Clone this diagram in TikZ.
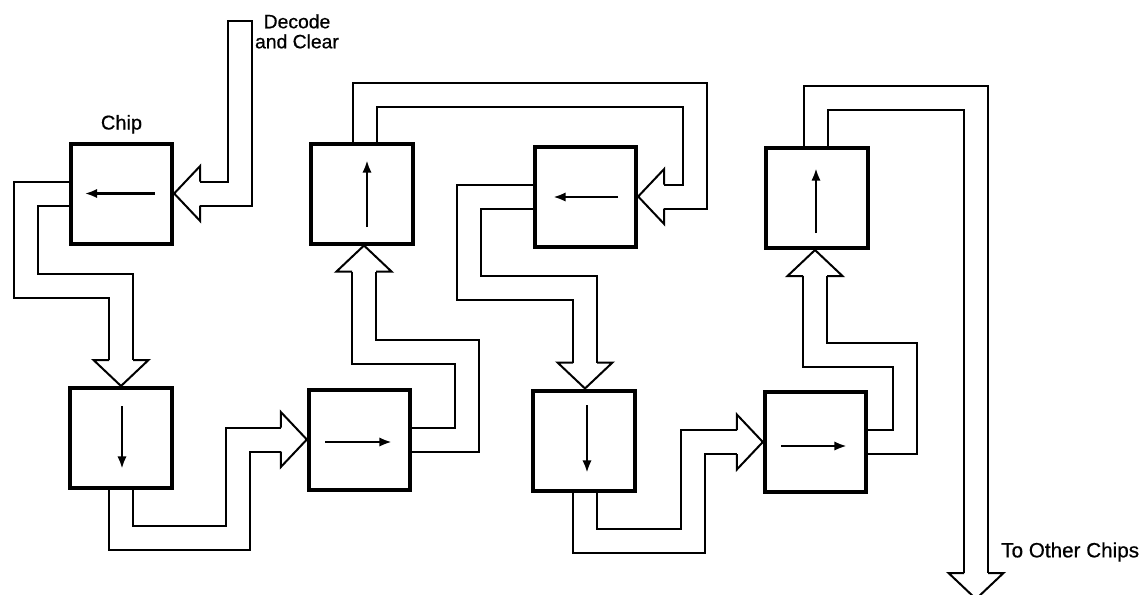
\documentclass[tikz,border=0pt]{standalone}
\usepackage{fontspec}
\setmainfont{Liberation Sans}
\newfontfamily\lblfont{Liberation Sans}[FakeBold=0.6]
\usetikzlibrary{calc,arrows.meta}
\pgfdeclarelayer{bg}
\pgfsetlayers{bg,main}
\tikzset{
  chipbox/.style={draw, line width=3pt, minimum width=76pt, minimum height=75pt, inner sep=0pt},
  bus/.style={draw, line width=1.5pt, double=white, double distance=16.5pt, line join=miter, line cap=butt},
  busedge/.style={line width=1.5pt, line join=miter},
  flow/.style={line width=2pt, -{Latex[length=9.5pt,width=7pt]}},
  lbl/.style={inner sep=0pt, font=\lblfont\fontsize{14.5}{15}\selectfont},
  bushead/.pic={\draw[busedge] (-26,12) -- (-26,27.5) -- (0,0) -- (-26,-27.5) -- (-26,-12);}
}
\begin{document}
\begin{tikzpicture}[x=0.75pt,y=0.75pt]
\useasboundingbox (0,0) rectangle (1146,-594);
% chips
\node[chipbox] (b1) at (121.5,-193.5) {};
\node[chipbox] (b2) at (121,-438) {};
\node[chipbox] (b3) at (359.5,-439.5) {};
\node[chipbox] (b4) at (362,-193.5) {};
\node[chipbox] (b5) at (585.5,-196.5) {};
\node[chipbox] (b6) at (584,-440.5) {};
\node[chipbox] (b7) at (815.5,-442) {};
\node[chipbox] (b8) at (817,-198) {};
% direction arrows inside chips
\draw[flow] ($(b1.center)+(33,0)$) -- ($(b1.center)+(-37,0)$);
\draw[flow] ($(b2.center)+(1,32)$) -- ($(b2.center)+(1,-31)$);
\draw[flow] ($(b3.center)+(-34.5,-2.5)$) -- ($(b3.center)+(32.5,-2.5)$);
\draw[flow] ($(b4.center)+(5,-33.5)$) -- ($(b4.center)+(5,33.5)$);
\draw[flow] ($(b5.center)+(32.5,-0.5)$) -- ($(b5.center)+(-32.5,-0.5)$);
\draw[flow] ($(b6.center)+(3,35.5)$) -- ($(b6.center)+(3,-32.5)$);
\draw[flow] ($(b7.center)+(-34.5,-4)$) -- ($(b7.center)+(31.5,-4)$);
\draw[flow] ($(b8.center)+(-1,-35)$) -- ($(b8.center)+(-1,30)$);
% labels
\node[lbl, font=\lblfont\fontsize{15}{16}\selectfont, anchor=base] (chip) at ($(b1.north)+(0,12)$) {Chip};
\node[lbl, anchor=north, align=center] (dec) at (297,-14) {Decode\\and Clear};
\node[lbl, font=\lblfont\fontsize{15.5}{16}\selectfont, anchor=west] (other) at (1001,-552) {To Other Chips};
\coordinate (dtop) at (240,-21);
\coordinate (outtip) at (976,-599);
% buses
\begin{pgfonlayer}{bg}
\draw[bus] (dtop) |- ($(b1.east)+(26,0)$);
\draw[busedge] ($(dtop)+(-12.9,0)$) -- ($(dtop)+(12.9,0)$);
\pic[rotate=180] at (b1.east) {bushead};

\draw[bus] (b1.west) -| (25.5,-285.5) -| ($(b2.north)+(0,26)$);
\pic[rotate=-90] at (b2.north) {bushead};

\draw[bus] (b2.south) |- (237.5,-537.5) |- ($(b3.west)+(-26,0)$);
\pic at (b3.west) {bushead};

\draw[bus] (b3.east) -| (466.5,-351.5) -| ($(b4.south)+(2,-26)$);
\pic[rotate=90] at ($(b4.south)+(2,0)$) {bushead};

\draw[bus] ($(b4.north)+(3,0)$) |- (694.5,-94.5) |- ($(b5.east)+(26,0)$);
\pic[rotate=180] at (b5.east) {bushead};

\draw[bus] (b5.west) -| (468.5,-288) -| ($(b6.north)+(1,26)$);
\pic[rotate=-90] at ($(b6.north)+(1,0)$) {bushead};

\draw[bus] ($(b6.south)+(1,0)$) |- (693,-541) |- ($(b7.west)+(-26,0)$);
\pic at (b7.west) {bushead};

\draw[bus] (b7.east) -| (905,-354.5) -| ($(b8.south)+(-2,-26)$);
\pic[rotate=90] at ($(b8.south)+(-2,0)$) {bushead};

\draw[bus] ($(b8.north)+(-1,0)$) |- (976,-97.5) -- ($(outtip)+(0,26)$);
\pic[rotate=-90] at (outtip) {bushead};
\end{pgfonlayer}
\end{tikzpicture}
\end{document}
